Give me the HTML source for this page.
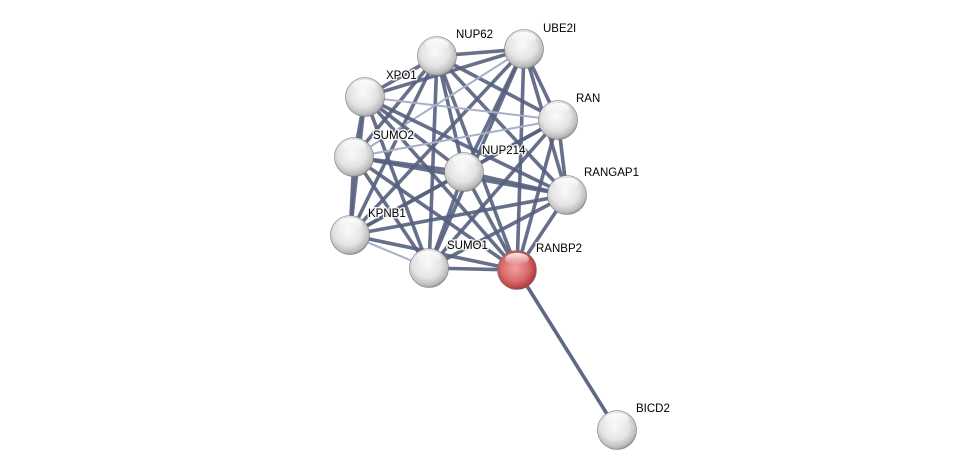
<!DOCTYPE html>
<html><head><meta charset="utf-8"><style>
html,body{margin:0;padding:0;background:#fff;width:975px;height:475px;overflow:hidden}
text{font-family:"Liberation Sans",sans-serif;font-size:11.5px;fill:#000;stroke:#fff;stroke-width:3px;stroke-opacity:0.85;paint-order:stroke;stroke-linejoin:round}
</style></head><body>
<svg id="s" width="975" height="475" viewBox="0 0 975 475" xmlns="http://www.w3.org/2000/svg">
<defs>
<radialGradient id="g" cx="45%" cy="40%" r="60%">
<stop offset="0" stop-color="#fafafa"/><stop offset="0.6" stop-color="#e4e4e4"/><stop offset="0.9" stop-color="#bdbdbd"/><stop offset="1" stop-color="#9a9a9a"/></radialGradient>
<radialGradient id="r" cx="45%" cy="45%" r="60%">
<stop offset="0" stop-color="#f0a0a0"/><stop offset="0.6" stop-color="#d86868"/><stop offset="0.9" stop-color="#b03c3c"/><stop offset="1" stop-color="#8a2a2a"/></radialGradient>
<linearGradient id="h" x1="0" y1="0" x2="0" y2="1"><stop offset="0" stop-color="#fff" stop-opacity="0.9"/><stop offset="1" stop-color="#fff" stop-opacity="0"/></linearGradient>
</defs>
<g id="e"></g><g id="n"></g><g id="t"></g>
</svg>
<script>
var N={NUP62:[437,56],UBE2I:[524,49],XPO1:[365,97],RAN:[558,120],SUMO2:[354,157],NUP214:[464,172],RANGAP1:[567,195],KPNB1:[350,235],SUMO1:[429,268],RANBP2:[517,270],BICD2:[617,430]};
var light={"XPO1-RAN":1,"SUMO2-RAN":1,"KPNB1-SUMO1":1,"UBE2I-SUMO2":1};
var k=Object.keys(N).filter(function(x){return x!="BICD2"});
var out="";
function ln(a,b,w,c,o){return '<line x1="'+N[a][0]+'" y1="'+N[a][1]+'" x2="'+N[b][0]+'" y2="'+N[b][1]+'" stroke="'+c+'" stroke-width="'+w+'" stroke-opacity="'+o+'"/>';}
for(var i=0;i<k.length;i++)for(var j=i+1;j<k.length;j++){var key=k[i]+"-"+k[j];
 if(light[key]||light[k[j]+"-"+k[i]])out+=ln(k[i],k[j],2,"#a8b0c8",1);
 else out+=ln(k[i],k[j],3.6,"#56607e",0.9);}
out+=ln("RANBP2","BICD2",3.6,"#56607e",0.95);
document.getElementById("e").innerHTML=out;
var lab={NUP62:[456,38],UBE2I:[543,32],XPO1:[386,79],RAN:[576,102],SUMO2:[373,139],NUP214:[482,154],RANGAP1:[584,176],KPNB1:[368,217],SUMO1:[447,249],RANBP2:[536,252],BICD2:[636,412]};
var o2="",o3="";
for(var x in N){var c=N[x];
 o2+='<circle cx="'+c[0]+'" cy="'+c[1]+'" r="19.5" fill="url(#'+(x=="RANBP2"?"r":"g")+')" stroke="#777" stroke-width="0.6"/>';
 o2+='<ellipse cx="'+c[0]+'" cy="'+(c[1]-11)+'" rx="12" ry="6" fill="url(#h)"/>';
 o3+='<text x="'+lab[x][0]+'" y="'+lab[x][1]+'">'+x+'</text>';}
document.getElementById("n").innerHTML=o2;
document.getElementById("t").innerHTML=o3;
</script>
</body></html>
